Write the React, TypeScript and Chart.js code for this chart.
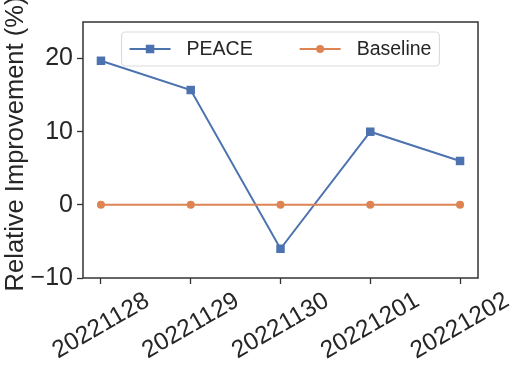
import React, { useEffect, useRef } from "react";
import { Chart, registerables } from "chart.js";

Chart.register(...registerables);

const categories = ["20221128", "20221129", "20221130", "20221201", "20221202"];
const peaceValues = [19.7, 15.7, -6.0, 10.0, 6.0];
const baselineValues = [0, 0, 0, 0, 0];
const yTickValues = [-10, 0, 10, 20];
const seriesLabels = ["PEACE", "Baseline"];
const yTitle = "Relative Improvement (%)";

const FONT = '"Liberation Sans", Arial, sans-serif';
const TEXT = "#262626";
const AXIS = "#333333";
const BLUE = "#4C72B0";
const ORANGE = "#DD8452";

const decorPlugin = {
  id: "decor",
  afterDraw(chart: any) {
    const { ctx, chartArea } = chart;
    const xs = chart.scales.x;
    ctx.save();
    // frame
    ctx.strokeStyle = AXIS;
    ctx.lineWidth = 1.5;
    ctx.strokeRect(chartArea.left, chartArea.top, chartArea.right - chartArea.left, chartArea.bottom - chartArea.top);

    // x tick labels rotated 30deg, centered
    ctx.fillStyle = TEXT;
    ctx.font = `24.5px ${FONT}`;
    ctx.textAlign = "center";
    ctx.textBaseline = "middle";
    categories.forEach((c, i) => {
      const px = xs.getPixelForValue(i);
      ctx.save();
      ctx.translate(px, chartArea.bottom + 48);
      ctx.rotate(-Math.PI / 6);
      ctx.fillText(c, 0, 0);
      ctx.restore();
    });

    // y title
    ctx.save();
    ctx.font = `25.5px ${FONT}`;
    ctx.textAlign = "center";
    ctx.textBaseline = "alphabetic";
    ctx.translate(22.5, 144);
    ctx.rotate(-Math.PI / 2);
    ctx.fillText(yTitle, 0, 0);
    ctx.restore();

    // legend
    ctx.font = `19.5px ${FONT}`;
    const pad = 8, handle = 41, gap = 16, colGap = 47;
    const widths = seriesLabels.map((s) => ctx.measureText(s).width);
    const total = pad + handle + gap + widths[0] + colGap + handle + gap + widths[1] + pad;
    const cx = (chartArea.left + chartArea.right) / 2;
    const bx = cx - total / 2;
    const by = chartArea.top + 10;
    const bh = 34;
    ctx.beginPath();
    const r = 4;
    ctx.moveTo(bx + r, by);
    ctx.arcTo(bx + total, by, bx + total, by + bh, r);
    ctx.arcTo(bx + total, by + bh, bx, by + bh, r);
    ctx.arcTo(bx, by + bh, bx, by, r);
    ctx.arcTo(bx, by, bx + total, by, r);
    ctx.closePath();
    ctx.fillStyle = "rgba(255,255,255,0.85)";
    ctx.fill();
    ctx.strokeStyle = "#dcdcdc";
    ctx.lineWidth = 1.2;
    ctx.stroke();

    const ly = by + bh / 2;
    let x = bx + pad;
    const colors = [BLUE, ORANGE];
    seriesLabels.forEach((s, i) => {
      ctx.strokeStyle = colors[i];
      ctx.lineWidth = 2;
      ctx.beginPath();
      ctx.moveTo(x, ly);
      ctx.lineTo(x + handle, ly);
      ctx.stroke();
      ctx.fillStyle = colors[i];
      const mx = x + handle / 2;
      if (i === 0) {
        ctx.fillRect(mx - 4.25, ly - 4.25, 8.5, 8.5);
      } else {
        ctx.beginPath();
        ctx.arc(mx, ly, 4, 0, Math.PI * 2);
        ctx.fill();
      }
      x += handle + gap;
      ctx.fillStyle = TEXT;
      ctx.textAlign = "left";
      ctx.textBaseline = "middle";
      ctx.fillText(s, x, ly + 1);
      x += widths[i] + colGap;
    });
    ctx.restore();
  },
};

export default function App() {
  const ref = useRef<HTMLCanvasElement | null>(null);
  useEffect(() => {
    if (!ref.current) return;
    const chart = new Chart(ref.current, {
      type: "line",
      data: {
        datasets: [
          {
            label: seriesLabels[0],
            data: peaceValues.map((v, i) => ({ x: i, y: v })),
            borderColor: BLUE,
            backgroundColor: BLUE,
            borderWidth: 2,
            pointStyle: "rect",
            pointRadius: 6,
            pointBorderWidth: 0,
            tension: 0,
            order: 1,
          },
          {
            label: seriesLabels[1],
            data: baselineValues.map((v, i) => ({ x: i, y: v })),
            borderColor: ORANGE,
            backgroundColor: ORANGE,
            borderWidth: 2,
            pointStyle: "circle",
            pointRadius: 4,
            pointBorderWidth: 0,
            tension: 0,
            order: 0,
          },
        ],
      },
      options: {
        responsive: false,
        animation: false,
        layout: { padding: { left: 0, top: 22, right: 38, bottom: 0 } },
        plugins: { legend: { display: false }, tooltip: { enabled: false } },
        scales: {
          x: {
            type: "linear",
            min: -0.2,
            max: 4.2,
            afterBuildTicks: (s: any) => {
              s.ticks = categories.map((_, i) => ({ value: i }));
            },
            afterFit: (s: any) => {
              s.height = 89;
            },
            ticks: {
              color: "rgba(0,0,0,0)",
              autoSkip: false,
              maxRotation: 0,
              minRotation: 0,
              callback: (v: any) => categories[v] ?? "",
            },
            grid: { display: true, drawOnChartArea: false, drawTicks: true, tickLength: 6, tickWidth: 1.3, tickColor: AXIS },
            border: { display: false },
          },
          y: {
            min: -10,
            max: 25,
            afterBuildTicks: (s: any) => {
              s.ticks = yTickValues.map((v) => ({ value: v }));
            },
            afterFit: (s: any) => {
              s.width = 83;
            },
            ticks: {
              color: TEXT,
              font: { family: FONT, size: 25 },
              padding: 4,
              callback: (v: any) => (v < 0 ? "\u2212" + Math.abs(v) : String(v)),
            },
            grid: { display: true, drawOnChartArea: false, drawTicks: true, tickLength: 6, tickWidth: 1.3, tickColor: AXIS },
            border: { display: false },
          },
        },
      } as any,
      plugins: [decorPlugin],
    });
    return () => chart.destroy();
  }, []);
  return (
    <div style={{ position: "fixed", left: 0, top: 0, width: 516, height: 367, background: "#fff" }}>
      <canvas ref={ref} width={516} height={367} />
    </div>
  );
}
